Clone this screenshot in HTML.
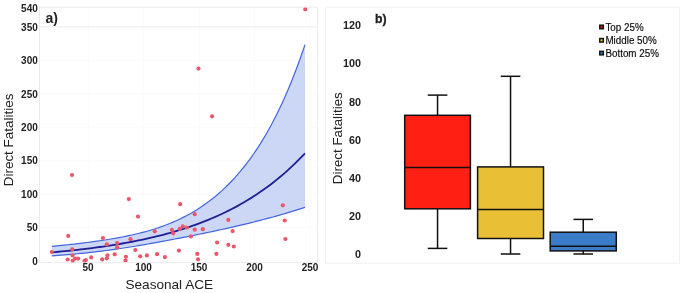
<!DOCTYPE html>
<html><head><meta charset="utf-8"><style>
html,body{margin:0;padding:0;background:#fff;width:685px;height:293px;overflow:hidden}
svg{display:block;will-change:transform}
text{font-family:"Liberation Sans",sans-serif}
</style></head><body>
<svg width="685" height="293" viewBox="0 0 685 293">
<defs><clipPath id="ca"><rect x="39.5" y="7.2" width="278.1" height="255.2"/></clipPath></defs>
<g stroke="#fbfbfb" stroke-width="1"><line x1="88.2" y1="7.2" x2="88.2" y2="262.4"/><line x1="143.7" y1="7.2" x2="143.7" y2="262.4"/><line x1="199.2" y1="7.2" x2="199.2" y2="262.4"/><line x1="254.7" y1="7.2" x2="254.7" y2="262.4"/><line x1="310.2" y1="7.2" x2="310.2" y2="262.4"/><line x1="39.5" y1="227.6" x2="317.6" y2="227.6"/><line x1="39.5" y1="194.2" x2="317.6" y2="194.2"/><line x1="39.5" y1="160.8" x2="317.6" y2="160.8"/><line x1="39.5" y1="127.4" x2="317.6" y2="127.4"/><line x1="39.5" y1="94.0" x2="317.6" y2="94.0"/><line x1="39.5" y1="60.6" x2="317.6" y2="60.6"/></g>
<line x1="39.5" y1="26.9" x2="317.6" y2="26.9" stroke="#ececec" stroke-width="1"/>
<rect x="39.5" y="7.2" width="278.1" height="255.2" fill="none" stroke="#ebebeb" stroke-width="1"/>
<path d="M51.80,246.33 L55.01,246.03 L58.21,245.72 L61.42,245.40 L64.62,245.07 L67.83,244.73 L71.03,244.39 L74.24,244.03 L77.44,243.66 L80.65,243.28 L83.85,242.89 L87.06,242.49 L90.26,242.08 L93.47,241.65 L96.67,241.20 L99.88,240.74 L103.08,240.26 L106.29,239.77 L109.49,239.26 L112.70,238.72 L115.90,238.16 L119.11,237.58 L122.31,236.98 L125.52,236.34 L128.72,235.68 L131.93,234.99 L135.13,234.26 L138.34,233.49 L141.54,232.69 L144.75,231.85 L147.95,230.96 L151.16,230.02 L154.36,229.04 L157.57,228.00 L160.77,226.90 L163.98,225.75 L167.18,224.53 L170.39,223.25 L173.59,221.90 L176.80,220.48 L180.00,218.98 L183.21,217.40 L186.41,215.74 L189.62,213.99 L192.82,212.15 L196.03,210.22 L199.23,208.19 L202.44,206.06 L205.64,203.82 L208.85,201.47 L212.05,199.01 L215.26,196.42 L218.46,193.71 L221.67,190.87 L224.87,187.88 L228.08,184.76 L231.28,181.49 L234.49,178.06 L237.69,174.46 L240.90,170.70 L244.10,166.75 L247.31,162.63 L250.51,158.30 L253.72,153.78 L256.92,149.04 L260.13,144.08 L263.33,138.88 L266.54,133.45 L269.74,127.76 L272.95,121.80 L276.15,115.57 L279.36,109.04 L282.56,102.21 L285.77,95.07 L288.97,87.59 L292.18,79.77 L295.38,71.58 L298.59,63.01 L301.79,54.04 L305.00,44.66 L305.00,207.39 L301.79,208.42 L298.59,209.44 L295.38,210.43 L292.18,211.41 L288.97,212.38 L285.77,213.32 L282.56,214.26 L279.36,215.17 L276.15,216.08 L272.95,216.96 L269.74,217.84 L266.54,218.70 L263.33,219.54 L260.13,220.38 L256.92,221.20 L253.72,222.01 L250.51,222.80 L247.31,223.59 L244.10,224.36 L240.90,225.12 L237.69,225.87 L234.49,226.62 L231.28,227.35 L228.08,228.07 L224.87,228.79 L221.67,229.49 L218.46,230.19 L215.26,230.88 L212.05,231.56 L208.85,232.23 L205.64,232.90 L202.44,233.56 L199.23,234.22 L196.03,234.87 L192.82,235.51 L189.62,236.15 L186.41,236.79 L183.21,237.42 L180.00,238.05 L176.80,238.67 L173.59,239.28 L170.39,239.90 L167.18,240.50 L163.98,241.11 L160.77,241.70 L157.57,242.29 L154.36,242.88 L151.16,243.46 L147.95,244.03 L144.75,244.59 L141.54,245.15 L138.34,245.69 L135.13,246.23 L131.93,246.75 L128.72,247.27 L125.52,247.77 L122.31,248.26 L119.11,248.74 L115.90,249.20 L112.70,249.65 L109.49,250.09 L106.29,250.52 L103.08,250.93 L99.88,251.33 L96.67,251.72 L93.47,252.09 L90.26,252.45 L87.06,252.80 L83.85,253.13 L80.65,253.46 L77.44,253.77 L74.24,254.07 L71.03,254.36 L67.83,254.64 L64.62,254.90 L61.42,255.16 L58.21,255.41 L55.01,255.64 L51.80,255.87 Z" fill="#ccd6f5"/>
<path d="M51.80,246.33 L55.01,246.03 L58.21,245.72 L61.42,245.40 L64.62,245.07 L67.83,244.73 L71.03,244.39 L74.24,244.03 L77.44,243.66 L80.65,243.28 L83.85,242.89 L87.06,242.49 L90.26,242.08 L93.47,241.65 L96.67,241.20 L99.88,240.74 L103.08,240.26 L106.29,239.77 L109.49,239.26 L112.70,238.72 L115.90,238.16 L119.11,237.58 L122.31,236.98 L125.52,236.34 L128.72,235.68 L131.93,234.99 L135.13,234.26 L138.34,233.49 L141.54,232.69 L144.75,231.85 L147.95,230.96 L151.16,230.02 L154.36,229.04 L157.57,228.00 L160.77,226.90 L163.98,225.75 L167.18,224.53 L170.39,223.25 L173.59,221.90 L176.80,220.48 L180.00,218.98 L183.21,217.40 L186.41,215.74 L189.62,213.99 L192.82,212.15 L196.03,210.22 L199.23,208.19 L202.44,206.06 L205.64,203.82 L208.85,201.47 L212.05,199.01 L215.26,196.42 L218.46,193.71 L221.67,190.87 L224.87,187.88 L228.08,184.76 L231.28,181.49 L234.49,178.06 L237.69,174.46 L240.90,170.70 L244.10,166.75 L247.31,162.63 L250.51,158.30 L253.72,153.78 L256.92,149.04 L260.13,144.08 L263.33,138.88 L266.54,133.45 L269.74,127.76 L272.95,121.80 L276.15,115.57 L279.36,109.04 L282.56,102.21 L285.77,95.07 L288.97,87.59 L292.18,79.77 L295.38,71.58 L298.59,63.01 L301.79,54.04 L305.00,44.66" fill="none" stroke="#4466dd" stroke-width="1.2"/>
<path d="M51.80,255.87 L55.01,255.64 L58.21,255.41 L61.42,255.16 L64.62,254.90 L67.83,254.64 L71.03,254.36 L74.24,254.07 L77.44,253.77 L80.65,253.46 L83.85,253.13 L87.06,252.80 L90.26,252.45 L93.47,252.09 L96.67,251.72 L99.88,251.33 L103.08,250.93 L106.29,250.52 L109.49,250.09 L112.70,249.65 L115.90,249.20 L119.11,248.74 L122.31,248.26 L125.52,247.77 L128.72,247.27 L131.93,246.75 L135.13,246.23 L138.34,245.69 L141.54,245.15 L144.75,244.59 L147.95,244.03 L151.16,243.46 L154.36,242.88 L157.57,242.29 L160.77,241.70 L163.98,241.11 L167.18,240.50 L170.39,239.90 L173.59,239.28 L176.80,238.67 L180.00,238.05 L183.21,237.42 L186.41,236.79 L189.62,236.15 L192.82,235.51 L196.03,234.87 L199.23,234.22 L202.44,233.56 L205.64,232.90 L208.85,232.23 L212.05,231.56 L215.26,230.88 L218.46,230.19 L221.67,229.49 L224.87,228.79 L228.08,228.07 L231.28,227.35 L234.49,226.62 L237.69,225.87 L240.90,225.12 L244.10,224.36 L247.31,223.59 L250.51,222.80 L253.72,222.01 L256.92,221.20 L260.13,220.38 L263.33,219.54 L266.54,218.70 L269.74,217.84 L272.95,216.96 L276.15,216.08 L279.36,215.17 L282.56,214.26 L285.77,213.32 L288.97,212.38 L292.18,211.41 L295.38,210.43 L298.59,209.44 L301.79,208.42 L305.00,207.39" fill="none" stroke="#4466dd" stroke-width="1.2"/>
<path d="M51.80,252.32 L55.01,252.04 L58.21,251.75 L61.42,251.45 L64.62,251.14 L67.83,250.82 L71.03,250.50 L74.24,250.15 L77.44,249.80 L80.65,249.44 L83.85,249.07 L87.06,248.68 L90.26,248.28 L93.47,247.87 L96.67,247.44 L99.88,247.00 L103.08,246.55 L106.29,246.08 L109.49,245.60 L112.70,245.10 L115.90,244.58 L119.11,244.05 L122.31,243.50 L125.52,242.94 L128.72,242.35 L131.93,241.75 L135.13,241.12 L138.34,240.48 L141.54,239.82 L144.75,239.13 L147.95,238.42 L151.16,237.69 L154.36,236.93 L157.57,236.15 L160.77,235.35 L163.98,234.52 L167.18,233.66 L170.39,232.77 L173.59,231.86 L176.80,230.92 L180.00,229.94 L183.21,228.94 L186.41,227.90 L189.62,226.82 L192.82,225.72 L196.03,224.57 L199.23,223.39 L202.44,222.18 L205.64,220.92 L208.85,219.62 L212.05,218.28 L215.26,216.90 L218.46,215.47 L221.67,213.99 L224.87,212.47 L228.08,210.90 L231.28,209.27 L234.49,207.60 L237.69,205.87 L240.90,204.08 L244.10,202.24 L247.31,200.33 L250.51,198.37 L253.72,196.34 L256.92,194.24 L260.13,192.08 L263.33,189.85 L266.54,187.54 L269.74,185.16 L272.95,182.71 L276.15,180.17 L279.36,177.55 L282.56,174.85 L285.77,172.06 L288.97,169.18 L292.18,166.20 L295.38,163.13 L298.59,159.96 L301.79,156.69 L305.00,153.31" fill="none" stroke="#1e1e96" stroke-width="1.8"/>
<g fill="#e9586a" clip-path="url(#ca)"><circle cx="68.2" cy="235.9" r="2.1"/><circle cx="51.8" cy="252.0" r="2.1"/><circle cx="72.2" cy="249.3" r="2.1"/><circle cx="72.5" cy="255.5" r="2.1"/><circle cx="67.7" cy="259.5" r="2.1"/><circle cx="72.7" cy="260.8" r="2.1"/><circle cx="75.2" cy="258.6" r="2.1"/><circle cx="78.2" cy="258.6" r="2.1"/><circle cx="84.6" cy="260.8" r="2.1"/><circle cx="85.9" cy="260.1" r="2.1"/><circle cx="91.2" cy="257.4" r="2.1"/><circle cx="72.0" cy="175.0" r="2.1"/><circle cx="102.9" cy="238.0" r="2.1"/><circle cx="106.8" cy="244.4" r="2.1"/><circle cx="102.2" cy="259.4" r="2.1"/><circle cx="107.5" cy="255.3" r="2.1"/><circle cx="106.8" cy="258.3" r="2.1"/><circle cx="114.7" cy="254.3" r="2.1"/><circle cx="117.2" cy="243.0" r="2.1"/><circle cx="117.2" cy="247.4" r="2.1"/><circle cx="125.9" cy="256.8" r="2.1"/><circle cx="125.5" cy="260.5" r="2.1"/><circle cx="130.5" cy="239.2" r="2.1"/><circle cx="135.3" cy="250.0" r="2.1"/><circle cx="128.8" cy="199.1" r="2.1"/><circle cx="138.0" cy="216.6" r="2.1"/><circle cx="154.8" cy="231.3" r="2.1"/><circle cx="140.2" cy="256.3" r="2.1"/><circle cx="146.9" cy="255.4" r="2.1"/><circle cx="157.1" cy="254.2" r="2.1"/><circle cx="164.9" cy="257.1" r="2.1"/><circle cx="171.9" cy="229.8" r="2.1"/><circle cx="173.1" cy="233.3" r="2.1"/><circle cx="179.7" cy="228.9" r="2.1"/><circle cx="178.9" cy="250.6" r="2.1"/><circle cx="180.2" cy="204.2" r="2.1"/><circle cx="194.7" cy="214.2" r="2.1"/><circle cx="182.8" cy="226.4" r="2.1"/><circle cx="186.8" cy="227.6" r="2.1"/><circle cx="194.7" cy="229.7" r="2.1"/><circle cx="202.8" cy="229.2" r="2.1"/><circle cx="190.9" cy="236.4" r="2.1"/><circle cx="217.1" cy="242.5" r="2.1"/><circle cx="197.3" cy="253.8" r="2.1"/><circle cx="198.0" cy="259.3" r="2.1"/><circle cx="216.4" cy="253.8" r="2.1"/><circle cx="228.3" cy="219.9" r="2.1"/><circle cx="232.6" cy="231.1" r="2.1"/><circle cx="228.3" cy="244.8" r="2.1"/><circle cx="233.8" cy="246.5" r="2.1"/><circle cx="282.8" cy="205.3" r="2.1"/><circle cx="284.7" cy="220.5" r="2.1"/><circle cx="285.4" cy="239.0" r="2.1"/><circle cx="198.5" cy="68.6" r="2.1"/><circle cx="212.1" cy="116.3" r="2.1"/><circle cx="305.3" cy="9.3" r="2.1"/></g>
<g font-size="10" font-weight="bold" fill="#222" text-anchor="end"><text x="37.8" y="264.5">0</text><text x="37.8" y="231.1">50</text><text x="37.8" y="197.7">100</text><text x="37.8" y="164.3">150</text><text x="37.8" y="130.9">200</text><text x="37.8" y="97.5">250</text><text x="37.8" y="64.1">300</text><text x="37.8" y="30.7">350</text><text x="37.8" y="12.2">540</text></g>
<g font-size="10" font-weight="bold" fill="#222" text-anchor="middle"><text x="88.0" y="270.8">50</text><text x="143.5" y="270.8">100</text><text x="199.0" y="270.8">150</text><text x="254.5" y="270.8">200</text><text x="310.0" y="270.8">250</text></g>
<text x="45.5" y="22.7" font-size="14" font-weight="bold" fill="#222">a)</text>
<text x="169.3" y="289" font-size="13.6" fill="#222" text-anchor="middle">Seasonal ACE</text>
<text transform="translate(13.4,139.9) rotate(-90)" font-size="13.47" fill="#222" text-anchor="middle">Direct Fatalities</text>

<rect x="325.7" y="7.2" width="353.9" height="256" fill="none" stroke="#f0f0f0" stroke-width="1"/>
<g font-size="10.8" font-weight="bold" fill="#222" text-anchor="end"><text x="361.0" y="258.2">0</text><text x="361.0" y="220.0">20</text><text x="361.0" y="181.9">40</text><text x="361.0" y="143.7">60</text><text x="361.0" y="105.6">80</text><text x="361.0" y="67.4">100</text><text x="361.0" y="29.2">120</text></g>
<text transform="translate(342.1,138.2) rotate(-90)" font-size="13.35" fill="#222" text-anchor="middle">Direct Fatalities</text>
<text transform="translate(375.0,22.9) scale(0.9,1)" font-size="13.6" font-weight="bold" fill="#222" stroke="#222" stroke-width="0.35">b)</text>
<g stroke="#111" stroke-width="1.5" fill="none"><line x1="437.54999999999995" y1="95.1" x2="437.54999999999995" y2="115.3"/><line x1="437.54999999999995" y1="208.8" x2="437.54999999999995" y2="248.4"/><line x1="427.74999999999994" y1="95.1" x2="447.34999999999997" y2="95.1"/><line x1="427.74999999999994" y1="248.4" x2="447.34999999999997" y2="248.4"/><rect x="404.7" y="115.3" width="65.69999999999999" height="93.50000000000001" fill="#fe2012"/><line x1="404.7" y1="167.5" x2="470.4" y2="167.5"/><line x1="510.55" y1="76.3" x2="510.55" y2="166.9"/><line x1="510.55" y1="238.5" x2="510.55" y2="254.0"/><line x1="500.75" y1="76.3" x2="520.35" y2="76.3"/><line x1="500.75" y1="254.0" x2="520.35" y2="254.0"/><rect x="477.6" y="166.9" width="65.89999999999998" height="71.6" fill="#e9bf36"/><line x1="477.6" y1="209.6" x2="543.5" y2="209.6"/><line x1="583.25" y1="219.4" x2="583.25" y2="232.2"/><line x1="583.25" y1="250.9" x2="583.25" y2="254.0"/><line x1="573.45" y1="219.4" x2="593.05" y2="219.4"/><line x1="573.45" y1="254.0" x2="593.05" y2="254.0"/><rect x="550.2" y="232.2" width="66.09999999999991" height="18.700000000000017" fill="#3b7cc8"/><line x1="550.2" y1="246.3" x2="616.3" y2="246.3"/></g>
<g font-size="9.85" fill="#0a0a0a" stroke="#0a0a0a" stroke-width="0.15">
<rect x="599.8" y="25.2" width="3.5" height="3.5" fill="#f01010" stroke="#111" stroke-width="1.5"/>
<text transform="translate(605.4,31.3) scale(1,1.06)">Top 25%</text>
<rect x="599.8" y="38.55" width="3.5" height="3.5" fill="#e8d820" stroke="#111" stroke-width="1.5"/>
<text transform="translate(605.4,44.2) scale(1,1.06)">Middle 50%</text>
<rect x="599.8" y="51.35" width="3.5" height="3.5" fill="#3080d0" stroke="#111" stroke-width="1.5"/>
<text transform="translate(605.4,57.3) scale(1,1.06)">Bottom 25%</text>
</g>
</svg>
</body></html>
